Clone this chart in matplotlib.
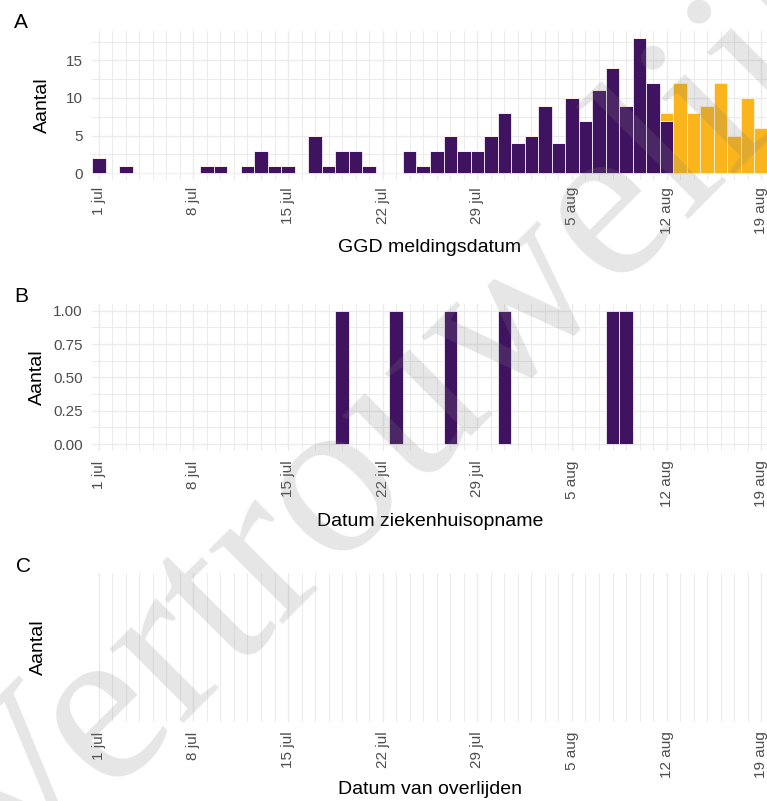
import matplotlib
matplotlib.use("Agg")
import matplotlib.pyplot as plt
import matplotlib.dates as mdates
import numpy as np
import datetime as dt

plt.rcParams['font.family'] = ['Liberation Sans', 'DejaVu Sans']

# ---------------- data ----------------
start_date = dt.date(2020, 7, 1)
n_days = 50
days = [start_date + dt.timedelta(days=i) for i in range(n_days)]

# Panel A: GGD meldingsdatum (purple = gemeld, yellow = recent/voorlopig)
meld_purple = [2, 0, 1, 0, 0, 0, 0, 0, 1, 1,
               0, 1, 3, 1, 1, 0, 5, 1, 3, 3,
               1, 0, 0, 3, 1, 3, 5, 3, 3, 5,
               8, 4, 5, 9, 4, 10, 7, 11, 14, 9,
               18, 12, 7, 0, 0, 0, 0, 0, 0, 0]
meld_yellow = [0] * 42 + [1, 12, 8, 9, 12, 5, 10, 6]

# Panel B: Datum ziekenhuisopname
opname_dates = [dt.date(2020, 7, 19), dt.date(2020, 7, 23), dt.date(2020, 7, 27),
                dt.date(2020, 7, 31), dt.date(2020, 8, 8), dt.date(2020, 8, 9)]
opname_counts = [1, 1, 1, 1, 1, 1]

# Panel C: Datum van overlijden (no events)
overlijden_dates = []
overlijden_counts = []

tick_dates = [dt.date(2020, 7, 1), dt.date(2020, 7, 8), dt.date(2020, 7, 15),
              dt.date(2020, 7, 22), dt.date(2020, 7, 29), dt.date(2020, 8, 5),
              dt.date(2020, 8, 12), dt.date(2020, 8, 19)]
tick_labels = ["1 jul", "8 jul", "15 jul", "22 jul", "29 jul", "5 aug", "12 aug", "19 aug"]

xlabels = ["GGD meldingsdatum", "Datum ziekenhuisopname", "Datum van overlijden"]
ylabel = "Aantal"
panel_letters = ["A", "B", "C"]
watermark = "Vertrouwelijk"

PURPLE = "#3F135F"
YELLOW = "#F9B51B"
GRID = "#EBEBEB"
TICKC = "#4D4D4D"

# ---------------- layout ----------------
W, H = 767, 801
fig = plt.figure(figsize=(W / 100, H / 100), dpi=100)

def ax_at(left, top, right, bottom):
    return fig.add_axes([left / W, 1 - bottom / H, (right - left) / W, (bottom - top) / H])

axA = ax_at(92, 31, 768, 180)
axB = ax_at(92, 304, 768, 450.7)
axC = ax_at(92, 572.7, 768, 721.7)

xmin = mdates.date2num(start_date) - 0.5
xmax = mdates.date2num(days[-1]) + 0.5
day_nums = mdates.date2num(days)

def style(ax, pad_x):
    ax.set_xlim(xmin, xmax)
    ax.set_xticks(mdates.date2num(tick_dates))
    ax.set_xticklabels(tick_labels, rotation=90)
    ax.set_xticks(day_nums, minor=True)
    for s in ax.spines.values():
        s.set_visible(False)
    ax.tick_params(which='both', length=0)
    ax.tick_params(axis='x', pad=pad_x, labelsize=11, labelcolor=TICKC)
    ax.tick_params(axis='y', pad=6.5, labelsize=11, labelcolor=TICKC)
    ax.grid(which='major', color=GRID, linewidth=1.0, zorder=0)
    ax.grid(which='minor', color=GRID, linewidth=0.7, zorder=0)
    ax.set_axisbelow(True)

# Panel A
axA.bar(day_nums, meld_purple, width=1.0, color=PURPLE, edgecolor="#F2EEF5", linewidth=0.6, zorder=2)
axA.bar(day_nums, meld_yellow, width=1.0, bottom=meld_purple, color=YELLOW, edgecolor="#FDF3DD",
        linewidth=0.6, zorder=2)
axA.set_ylim(-0.9, 18.9)
axA.set_yticks([0, 5, 10, 15])
axA.set_yticks([2.5, 7.5, 12.5, 17.5], minor=True)
style(axA, 5)

# Panel B
axB.bar(mdates.date2num(opname_dates), opname_counts, width=1.0, color=PURPLE,
        edgecolor="#F2EEF5", linewidth=0.6, zorder=2)
axB.set_ylim(-0.05, 1.05)
axB.set_yticks([0, 0.25, 0.5, 0.75, 1.0])
axB.set_yticklabels(["0.00", "0.25", "0.50", "0.75", "1.00"])
axB.set_yticks([0.125, 0.375, 0.625, 0.875], minor=True)
style(axB, 7)

# Panel C
if overlijden_dates:
    axC.bar(mdates.date2num(overlijden_dates), overlijden_counts, width=1.0, color=PURPLE, zorder=2)
style(axC, 7)
axC.set_yticks([])
axC.set_ylim(0, 1)
axC.grid(axis='y', visible=False, which='both')

# axis titles
for ax, xl, lx, ly in [(axA, xlabels[0], 42, 247), (axB, xlabels[1], 37, 521.7), (axC, xlabels[2], 38, 790)]:
    ax.set_xlabel(xl, fontsize=14, color="black")
    ax.set_ylabel(ylabel, fontsize=14, color="black")
    pos = ax.get_position()
    ax_left = pos.x0 * W
    ax_w = pos.width * W
    ax_bottom_px = (1 - pos.y0) * H
    ax_h = pos.height * H
    ax.yaxis.set_label_coords((lx - ax_left) / ax_w, 0.5)
    ax.xaxis.set_label_coords(0.5, -(ly - ax_bottom_px) / ax_h)
    ax.xaxis.label.set_va('center')
    ax.yaxis.label.set_va('center')

# panel letters
for letter, (px, py) in zip(panel_letters, [(14, 28), (14, 302), (16, 572)]):
    fig.text(px / W, 1 - py / H, letter, fontsize=15, ha='left', va='baseline', color="black")

# watermark
fig.text(10 / W, 1 - 895 / H, watermark, family=['Liberation Serif', 'DejaVu Serif'],
         fontsize=165, rotation=45, rotation_mode='anchor', ha='left', va='baseline',
         color="#808080", alpha=0.2, zorder=10)

fig.savefig("out.png", dpi=100)
